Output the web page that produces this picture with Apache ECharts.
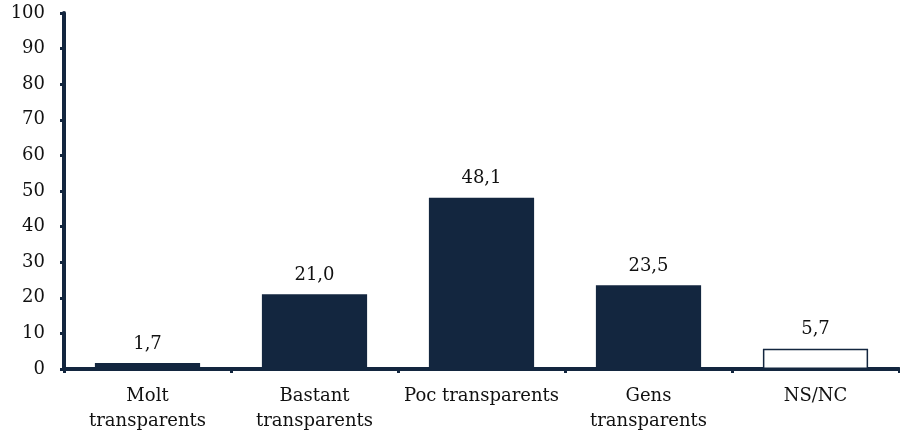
<!DOCTYPE html>
<html>
<head>
<meta charset="utf-8">
<script src="https://cdn.jsdelivr.net/npm/echarts@6/dist/echarts.min.js"></script>
<style>
	html, body { margin: 0; padding: 0; background: #fff; }
	#myChart { width: 900px; height: 434px; }
</style>
</head>
<body>
<div id="myChart"></div>
<script>
var categories = ['Molt\ntransparents', 'Bastant\ntransparents', 'Poc transparents', 'Gens\ntransparents', 'NS/NC'];
var values = [1.7, 21.0, 48.1, 23.5, 5.7];
var yTicks = [0, 10, 20, 30, 40, 50, 60, 70, 80, 90, 100];

var navy = '#13263f';
var font = 'DejaVu Serif';

var myChart = echarts.init(document.getElementById('myChart'));
var option = {
	animation: false,
	grid: {
		left: 64,
		right: 1,
		top: 13,
		bottom: 64
	},
	xAxis: {
		type: 'category',
		data: categories,
		axisLine: { lineStyle: { color: navy, width: 4 } },
		axisTick: { show: true, length: 4, lineStyle: { color: navy, width: 3 } },
		axisLabel: {
			color: '#111',
			fontFamily: font,
			fontSize: 18,
			lineHeight: 25,
			margin: 15,
			interval: 0
		}
	},
	yAxis: {
		type: 'value',
		min: yTicks[0],
		max: yTicks[yTicks.length - 1],
		interval: 10,
		splitLine: { show: false },
		axisLine: { show: true, lineStyle: { color: navy, width: 4 } },
		axisTick: { show: true, length: 4, lineStyle: { color: navy, width: 3 } },
		axisLabel: {
			color: '#111',
			fontFamily: font,
			fontSize: 18,
			margin: 19
		}
	},
	series: [{
		type: 'bar',
		barWidth: '63%',
		data: values.map(function(v, i) {
			// la darrera (NS/NC) va buida amb vora
			if (i === values.length - 1) {
				return { value: v, itemStyle: { color: '#fff', borderColor: navy, borderWidth: 1.5 } };
			}
			return { value: v, itemStyle: { color: navy } };
		}),
		label: {
			show: true,
			position: 'top',
			distance: 10,
			color: '#111',
			fontFamily: font,
			fontSize: 18,
			formatter: function(p) {
				return p.value.toFixed(1).replace('.', ',');
			}
		}
	}]
};
myChart.setOption(option);
</script>
</body>
</html>
